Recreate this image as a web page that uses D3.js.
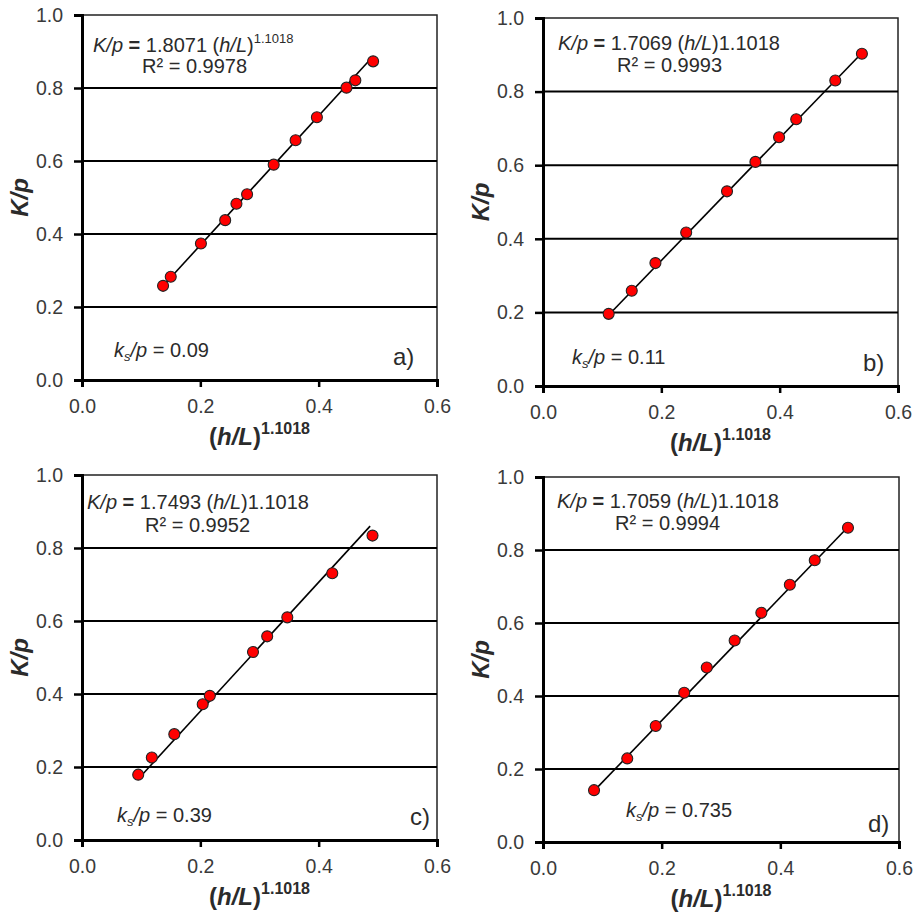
<!DOCTYPE html>
<html>
<head>
<meta charset="utf-8">
<script src="https://cdn.jsdelivr.net/npm/d3@7"></script>
<style>
  html, body { margin: 0; padding: 0; background: #fff; }
  svg { display: block; font-family: "Liberation Sans", Arial, sans-serif; }
</style>
</head>
<body>
<svg id="chart" width="921" height="912"></svg>
<script>
// ---------------- data ----------------
const xTicks = [0.0, 0.2, 0.4, 0.6];
const yTicks = [0.0, 0.2, 0.4, 0.6, 0.8, 1.0];
const gridValues = [0.2, 0.4, 0.6, 0.8];

const xA = [0.137, 0.150, 0.201, 0.242, 0.261, 0.279, 0.324, 0.361, 0.397, 0.447, 0.462, 0.492];
const yA = [0.258, 0.283, 0.374, 0.438, 0.483, 0.509, 0.590, 0.657, 0.720, 0.801, 0.821, 0.873];
const fitA = [[0.136, 0.256], [0.487, 0.878]];

const xB = [0.111, 0.150, 0.190, 0.242, 0.311, 0.359, 0.399, 0.428, 0.494, 0.539];
const yB = [0.196, 0.259, 0.334, 0.417, 0.529, 0.609, 0.676, 0.725, 0.830, 0.903];
const fitB = [[0.111, 0.193], [0.539, 0.905]];

const xC = [0.095, 0.118, 0.156, 0.204, 0.216, 0.289, 0.313, 0.347, 0.423, 0.491];
const yC = [0.179, 0.226, 0.290, 0.372, 0.395, 0.515, 0.558, 0.610, 0.731, 0.834];
const fitC = [[0.104, 0.183], [0.487, 0.860]];

const xD = [0.086, 0.142, 0.190, 0.238, 0.276, 0.323, 0.368, 0.416, 0.458, 0.514];
const yD = [0.142, 0.229, 0.318, 0.409, 0.478, 0.552, 0.628, 0.705, 0.772, 0.861];
const fitD = [[0.086, 0.140], [0.514, 0.863]];

const coefs = ["1.8071", "1.7069", "1.7493", "1.7059"];
const r2s = ["0.9978", "0.9993", "0.9952", "0.9994"];
const ksValues = ["0.09", "0.11", "0.39", "0.735"];
const panelLabels = ["a)", "b)", "c)", "d)"];
const exponent = "1.1018";

// ---------------- layout ----------------
const svg = d3.select("#chart");
const panels = [
  { xs: xA, ys: yA, fit: fitA, left: 82, top: 15, w: 355, h: 365, supExp: true,
    eq: [93, 52], r2: [142, 73], ks: [114, 357], lab: [393, 365] },
  { xs: xB, ys: yB, fit: fitB, left: 543, top: 18, w: 355, h: 368, supExp: false,
    eq: [558, 50], r2: [617, 72], ks: [572, 364], lab: [863, 371] },
  { xs: xC, ys: yC, fit: fitC, left: 82, top: 475, w: 355, h: 365, supExp: false,
    eq: [87, 509], r2: [145, 532], ks: [117, 822], lab: [410, 825] },
  { xs: xD, ys: yD, fit: fitD, left: 543, top: 477, w: 356, h: 365, supExp: false,
    eq: [557, 508], r2: [615, 530], ks: [626, 817], lab: [868, 832] }
];

const textCol = "#2b2b2b";
const tickCol = "#3a3a3a";

panels.forEach((p, i) => {
  const x = d3.scaleLinear().domain([0, 0.6]).range([p.left, p.left + p.w]);
  const y = d3.scaleLinear().domain([0, 1.0]).range([p.top + p.h, p.top]);
  const g = svg.append("g");

  // plot border (top, right)
  g.append("rect")
    .attr("x", x(0)).attr("y", y(1))
    .attr("width", x(0.6) - x(0)).attr("height", y(0) - y(1))
    .attr("fill", "none").attr("stroke", "#222").attr("stroke-width", 1.5);

  // grid lines
  g.selectAll(".grid").data(gridValues).enter().append("line")
    .attr("x1", x(0)).attr("x2", x(0.6))
    .attr("y1", d => y(d)).attr("y2", d => y(d))
    .attr("stroke", "#000").attr("stroke-width", 2);

  // axes
  const xAxis = d3.axisBottom(x).tickValues(xTicks).tickFormat(d3.format(".1f"))
    .tickSize(7).tickPadding(8);
  const yAxis = d3.axisLeft(y).tickValues(yTicks).tickFormat(d3.format(".1f"))
    .tickSize(8).tickPadding(11);

  const gx = g.append("g").attr("transform", `translate(0,${y(0)})`).call(xAxis);
  const gy = g.append("g").attr("transform", `translate(${x(0)},0)`).call(yAxis);
  [gx, gy].forEach(ax => {
    ax.select(".domain").attr("stroke", "#000").attr("stroke-width", 3);
    ax.selectAll(".tick line").attr("stroke", "#000").attr("stroke-width", 2.5);
    ax.selectAll(".tick text").attr("fill", tickCol)
      .style("font-size", "19.5px").style("font-family", "Liberation Sans, Arial, sans-serif");
  });
  gx.selectAll(".tick text").attr("dy", "0.9em");

  // fit line
  g.append("line")
    .attr("x1", x(p.fit[0][0])).attr("y1", y(p.fit[0][1]))
    .attr("x2", x(p.fit[1][0])).attr("y2", y(p.fit[1][1]))
    .attr("stroke", "#000").attr("stroke-width", 1.6);

  // points
  g.selectAll(".pt").data(p.xs.map((v, k) => [v, p.ys[k]])).enter().append("circle")
    .attr("cx", d => x(d[0])).attr("cy", d => y(d[1])).attr("r", 5.5)
    .attr("fill", "#ff0000").attr("stroke", "#222").attr("stroke-width", 1.1);

  // equation
  const eq = g.append("text").attr("x", p.eq[0]).attr("y", p.eq[1])
    .attr("fill", textCol).style("font-size", "20px");
  eq.append("tspan").style("font-style", "italic").text("K/p");
  eq.append("tspan").style("font-weight", "bold").text(" = ");
  eq.append("tspan").text(coefs[i] + " (");
  eq.append("tspan").style("font-style", "italic").text("h/L");
  eq.append("tspan").text(")");
  if (p.supExp) {
    eq.append("tspan").attr("dy", -9).style("font-size", "13px").text(exponent);
  } else {
    eq.append("tspan").text(exponent);
  }

  g.append("text").attr("x", p.r2[0]).attr("y", p.r2[1])
    .attr("fill", textCol).style("font-size", "20px")
    .text("R² = " + r2s[i]);

  // ks/p
  const ks = g.append("text").attr("x", p.ks[0]).attr("y", p.ks[1])
    .attr("fill", textCol).style("font-size", "20px");
  ks.append("tspan").style("font-style", "italic").text("k");
  ks.append("tspan").style("font-style", "italic").style("font-size", "13px").attr("dy", 4).text("s");
  ks.append("tspan").style("font-style", "italic").attr("dy", -4).text("/p");
  ks.append("tspan").text(" = " + ksValues[i]);

  // panel label
  g.append("text").attr("x", p.lab[0]).attr("y", p.lab[1])
    .attr("fill", textCol).style("font-size", "24px").text(panelLabels[i]);

  // axis titles
  const xl = g.append("text").attr("x", (x(0) + x(0.6)) / 2).attr("y", y(0) + 65)
    .attr("text-anchor", "middle").attr("fill", textCol)
    .style("font-weight", "bold").style("font-size", "24px");
  xl.append("tspan").text("(");
  xl.append("tspan").style("font-style", "italic").text("h/L");
  xl.append("tspan").text(")");
  xl.append("tspan").attr("dy", -11).style("font-size", "16px").text(exponent);

  g.append("text")
    .attr("transform", `translate(${p.left - 54},${(y(0) + y(1)) / 2}) rotate(-90)`)
    .attr("text-anchor", "middle").attr("fill", textCol)
    .style("font-weight", "bold").style("font-style", "italic").style("font-size", "24px")
    .text("K/p");
});
</script>
</body>
</html>
